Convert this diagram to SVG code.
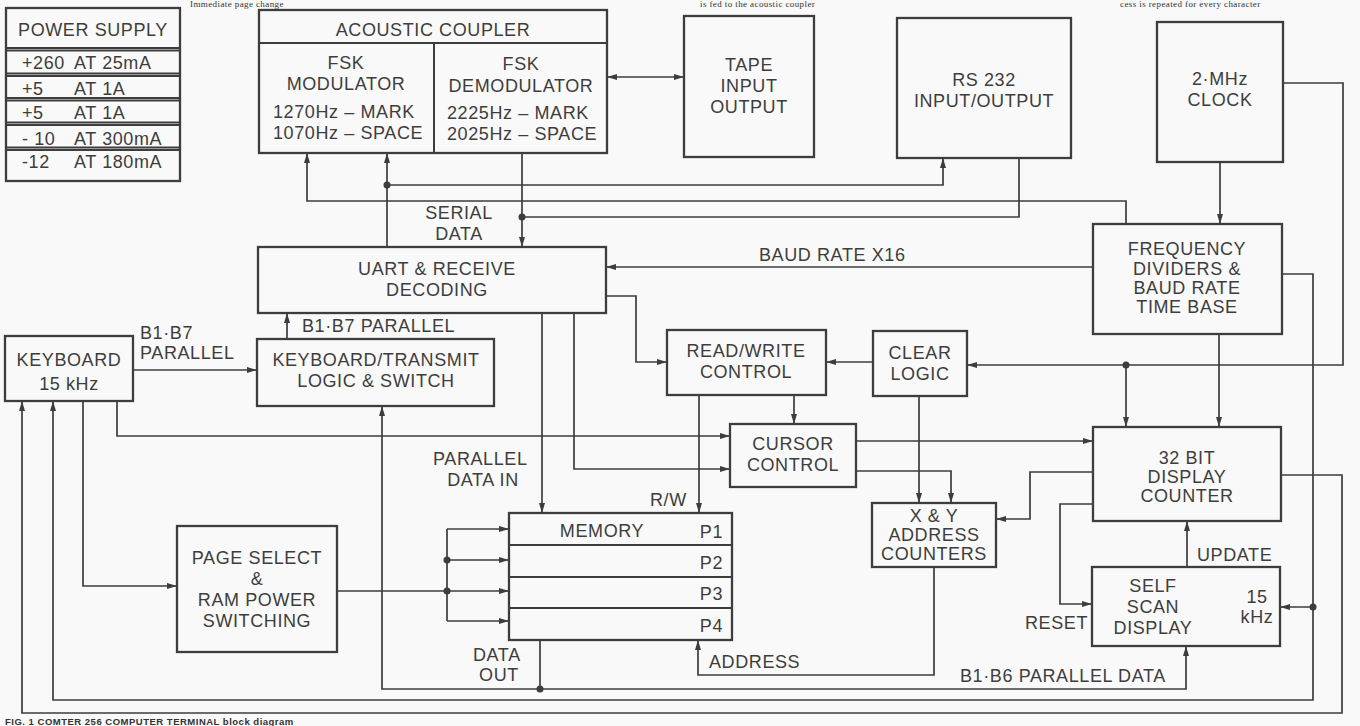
<svg xmlns="http://www.w3.org/2000/svg" width="1360" height="726" viewBox="0 0 1360 726">
<style>
.box{fill:none;stroke:#3d3d3d;stroke-width:2.3}
.ln{fill:none;stroke:#3d3d3d;stroke-width:2}
.t{font-family:"Liberation Sans",Arial,Helvetica,sans-serif;font-size:18px;fill:#3d3d3d;letter-spacing:0.6px}
.m{text-anchor:middle}
.w{fill:none;stroke:#3d3d3d;stroke-width:1.7}
.a{marker-end:url(#ah)}
.dot{fill:#3d3d3d}
.body{font-family:"Liberation Serif","Times New Roman",serif;font-size:9px;fill:#333333;letter-spacing:0.4px}
.cap{font-family:"Liberation Sans",Arial,Helvetica,sans-serif;font-size:9.5px;font-weight:bold;fill:#333333;letter-spacing:0.5px}
</style>
<defs>
<marker id="ah" viewBox="0 0 10 10" refX="10" refY="5" markerWidth="10" markerHeight="10" markerUnits="userSpaceOnUse" orient="auto-start-reverse">
<path d="M0,2 L10,5 L0,8 z" fill="#3d3d3d"/>
</marker>
</defs>
<rect x="0" y="0" width="1360" height="726" fill="#f9f9f9"/>

<g id="article-text">
<text class="body" x="190" y="7">Immediate page change</text>
<text class="body" x="700" y="7">is fed to the acoustic coupler</text>
<text class="body" x="1120" y="7">cess is repeated for every character</text>
<text class="cap" x="5" y="725">FIG. 1  COMTER 256 COMPUTER TERMINAL block diagram</text>
</g>

<g id="power-supply">
<rect class="box" x="6" y="8" width="174" height="173"/>
<path class="ln" d="M6,48 H180 M6,50.5 H180 M6,73.5 H180 M6,76 H180 M6,98 H180 M6,100.5 H180 M6,122.5 H180 M6,125 H180 M6,147.5 H180 M6,150 H180" stroke-width="1.6"/>
<text class="t m" x="93" y="36">POWER SUPPLY</text>
<text class="t" x="22" y="69">+260</text><text class="t" x="74" y="69">AT 25mA</text>
<text class="t" x="22" y="95">+5</text><text class="t" x="74" y="95">AT 1A</text>
<text class="t" x="22" y="119">+5</text><text class="t" x="74" y="119">AT 1A</text>
<text class="t" x="22" y="145">- 10</text><text class="t" x="74" y="145">AT 300mA</text>
<text class="t" x="22" y="168">-12</text><text class="t" x="74" y="168">AT 180mA</text>
</g>

<g id="acoustic-coupler">
<rect class="box" x="259" y="10" width="348" height="143"/>
<path class="ln" d="M259,43 H607 M434,43 V153"/>
<text class="t m" x="433" y="36">ACOUSTIC COUPLER</text>
<text class="t m" x="346" y="69">FSK</text>
<text class="t m" x="346" y="90">MODULATOR</text>
<text class="t" x="273" y="118">1270Hz – MARK</text>
<text class="t" x="273" y="139">1070Hz – SPACE</text>
<text class="t m" x="521" y="70">FSK</text>
<text class="t m" x="521" y="92">DEMODULATOR</text>
<text class="t" x="447" y="119">2225Hz – MARK</text>
<text class="t" x="447" y="140">2025Hz – SPACE</text>
</g>

<g id="tape">
<rect class="box" x="684" y="16" width="130" height="141"/>
<text class="t m" x="749" y="71">TAPE</text>
<text class="t m" x="749" y="92">INPUT</text>
<text class="t m" x="749" y="113">OUTPUT</text>
</g>

<g id="rs232">
<rect class="box" x="897" y="18" width="174" height="140"/>
<text class="t m" x="984" y="86">RS 232</text>
<text class="t m" x="984" y="107">INPUT/OUTPUT</text>
</g>

<g id="clock">
<rect class="box" x="1157" y="22" width="126" height="140"/>
<text class="t m" x="1220" y="85">2·MHz</text>
<text class="t m" x="1220" y="106">CLOCK</text>
</g>

<g id="freq-dividers">
<rect class="box" x="1093" y="224" width="189" height="110"/>
<text class="t m" x="1187" y="255">FREQUENCY</text>
<text class="t m" x="1187" y="275">DIVIDERS &amp;</text>
<text class="t m" x="1187" y="294">BAUD RATE</text>
<text class="t m" x="1187" y="313">TIME BASE</text>
</g>

<g id="uart">
<rect class="box" x="258" y="247" width="348" height="66"/>
<text class="t m" x="437" y="275">UART &amp; RECEIVE</text>
<text class="t m" x="437" y="296">DECODING</text>
</g>

<g id="keyboard">
<rect class="box" x="5" y="336" width="128" height="65"/>
<text class="t m" x="69" y="366">KEYBOARD</text>
<text class="t m" x="69" y="390">15 kHz</text>
</g>

<g id="keyboard-transmit">
<rect class="box" x="257" y="339" width="237" height="67"/>
<text class="t m" x="376" y="366">KEYBOARD/TRANSMIT</text>
<text class="t m" x="376" y="387">LOGIC &amp; SWITCH</text>
</g>

<g id="read-write">
<rect class="box" x="667" y="330" width="159" height="65"/>
<text class="t m" x="746" y="357">READ/WRITE</text>
<text class="t m" x="746" y="378">CONTROL</text>
</g>

<g id="clear-logic">
<rect class="box" x="873" y="331" width="94" height="65"/>
<text class="t m" x="920" y="359">CLEAR</text>
<text class="t m" x="920" y="380">LOGIC</text>
</g>

<g id="cursor-control">
<rect class="box" x="730" y="424" width="126" height="63"/>
<text class="t m" x="793" y="450">CURSOR</text>
<text class="t m" x="793" y="471">CONTROL</text>
</g>

<g id="display-counter">
<rect class="box" x="1093" y="427" width="188" height="94"/>
<text class="t m" x="1187" y="464">32 BIT</text>
<text class="t m" x="1187" y="483">DISPLAY</text>
<text class="t m" x="1187" y="502">COUNTER</text>
</g>

<g id="xy-counters">
<rect class="box" x="872" y="503" width="124" height="64"/>
<text class="t m" x="934" y="522">X &amp; Y</text>
<text class="t m" x="934" y="541">ADDRESS</text>
<text class="t m" x="934" y="560">COUNTERS</text>
</g>

<g id="self-scan">
<rect class="box" x="1092" y="567" width="188" height="79"/>
<text class="t m" x="1153" y="592">SELF</text>
<text class="t m" x="1153" y="613">SCAN</text>
<text class="t m" x="1153" y="634">DISPLAY</text>
<text class="t m" x="1257" y="603">15</text>
<text class="t m" x="1257" y="623">kHz</text>
</g>

<g id="memory">
<rect class="box" x="509" y="513" width="223" height="127"/>
<path class="ln" d="M509,545 H732 M509,577 H732 M509,608 H732"/>
<text class="t m" x="602" y="537">MEMORY</text>
<text class="t" x="723" y="538" text-anchor="end">P1</text>
<text class="t" x="723" y="569" text-anchor="end">P2</text>
<text class="t" x="723" y="600" text-anchor="end">P3</text>
<text class="t" x="723" y="632" text-anchor="end">P4</text>
</g>

<g id="page-select">
<rect class="box" x="177" y="526" width="160" height="126"/>
<text class="t m" x="257" y="564">PAGE SELECT</text>
<text class="t m" x="257" y="585">&amp;</text>
<text class="t m" x="257" y="606">RAM POWER</text>
<text class="t m" x="257" y="627">SWITCHING</text>
</g>

<g id="connectors">
<path class="w" d="M607,77 H684" marker-start="url(#ah)" marker-end="url(#ah)"/>
<path class="w a" d="M1220,162 V224"/>
<path class="w a" d="M1283,83 H1343 V365 H967"/>
<path class="w a" d="M1126,365 V427"/>
<path class="w a" d="M1219,334 V427"/>
<path class="w a" d="M1126,224 V201 H307 V153"/>
<path class="w a" d="M387,247 V153"/>
<path class="w a" d="M387,185 H943 V158"/>
<path class="w a" d="M522,153 V247"/>
<path class="w" d="M1019,158 V217 H522"/>
<path class="w a" d="M1093,267 H606"/>
<path class="w a" d="M606,296 H636 V362 H667"/>
<path class="w a" d="M873,362 H826"/>
<path class="w a" d="M794,395 V424"/>
<path class="w a" d="M699,395 V513"/>
<path class="w a" d="M542,313 V513"/>
<path class="w a" d="M574,313 V469 H730"/>
<path class="w a" d="M117,401 V436 H730"/>
<path class="w a" d="M856,441 H1093"/>
<path class="w a" d="M856,471 H951 V503"/>
<path class="w a" d="M919,396 V503"/>
<path class="w a" d="M1093,472 H1030 V519 H996"/>
<path class="w a" d="M1093,504 H1060 V604 H1092"/>
<path class="w a" d="M1187,567 V521"/>
<path class="w a" d="M1282,274 H1313 V700 H53 V401"/>
<path class="w a" d="M1313,607 H1280"/>
<path class="w a" d="M1281,475 H1342 V713 H22 V401"/>
<path class="w a" d="M133,370 H257"/>
<path class="w a" d="M287,339 V313"/>
<path class="w a" d="M83,401 V586 H177"/>
<path class="w" d="M337,591 H447 M447,529 V621"/>
<path class="w a" d="M447,529 H509"/>
<path class="w a" d="M447,560 H509"/>
<path class="w a" d="M447,591 H509"/>
<path class="w a" d="M447,621 H509"/>
<path class="w a" d="M934,567 V675 H698 V640"/>
<path class="w" d="M540,640 V689"/>
<path class="w a" d="M540,689 H382 V406"/>
<path class="w a" d="M540,689 H1186 V646"/>
<circle class="dot" cx="1126" cy="365" r="3.5"/>
<circle class="dot" cx="387" cy="185" r="3.5"/>
<circle class="dot" cx="522" cy="217" r="3.5"/>
<circle class="dot" cx="1313" cy="607" r="3.5"/>
<circle class="dot" cx="447" cy="560" r="3.5"/>
<circle class="dot" cx="447" cy="591" r="3.5"/>
<circle class="dot" cx="540" cy="689" r="3.5"/>
</g>

<g id="labels">
<text class="t m" x="459" y="219">SERIAL</text>
<text class="t m" x="459" y="240">DATA</text>
<text class="t" x="759" y="261">BAUD RATE X16</text>
<text class="t" x="140" y="339">B1·B7</text>
<text class="t" x="140" y="359">PARALLEL</text>
<text class="t" x="302" y="332">B1·B7 PARALLEL</text>
<text class="t" x="433" y="465">PARALLEL</text>
<text class="t m" x="483" y="486">DATA IN</text>
<text class="t" x="650" y="506">R/W</text>
<text class="t" x="473" y="661">DATA</text>
<text class="t m" x="499" y="681">OUT</text>
<text class="t" x="709" y="668">ADDRESS</text>
<text class="t" x="960" y="682">B1·B6 PARALLEL DATA</text>
<text class="t" x="1197" y="561">UPDATE</text>
<text class="t" x="1025" y="629">RESET</text>
</g>
</svg>
